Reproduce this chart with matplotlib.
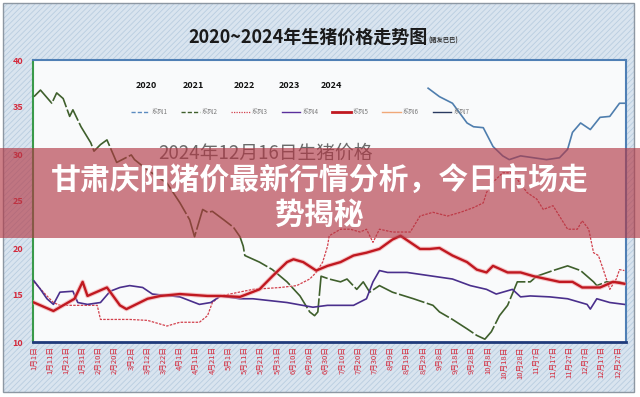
import matplotlib
matplotlib.use('Agg')
import matplotlib.pyplot as plt
from matplotlib.patches import Rectangle
from matplotlib.lines import Line2D

plt.rcParams['font.family'] = ['Noto Sans CJK SC', 'DejaVu Sans']
plt.rcParams['hatch.linewidth'] = 0.6

# values (day of year -> price, yuan/kg)
green_d = [1, 5, 12, 15, 19, 23, 25, 30, 36, 38, 42, 46, 52, 61, 63, 71, 83, 91, 97, 100,
           105, 108, 111, 118, 124, 128, 130, 131, 140, 148, 157, 165, 171, 174, 176, 178, 183, 190, 194, 200,
           204, 208, 214, 222, 235, 247, 251, 259, 268, 274, 279, 283, 288, 293, 299, 307, 311, 321, 330, 338,
           346, 348, 354, 362, 365]
green_v = [36.1, 36.8, 35.4, 36.5, 35.9, 34.0, 34.7, 32.9, 31.2, 30.3, 31.0, 31.5, 29.1, 29.9, 29.4, 28.3, 26.9, 24.8, 23.0, 21.2,
           24.1, 23.8, 23.9, 23.0, 22.2, 21.2, 20.2, 19.2, 18.5, 17.7, 16.4, 14.9, 13.2, 12.8, 13.2, 17.0, 16.7, 16.4, 16.7, 15.6,
           16.4, 15.3, 16.0, 15.3, 14.6, 13.9, 13.2, 12.4, 11.4, 10.7, 10.3, 11.1, 12.8, 13.9, 16.4, 16.4, 17.0, 17.6, 18.1, 17.6,
           16.4, 16.0, 16.4, 16.4, 16.2]

blue_d = [244, 251, 259, 268, 272, 278, 284, 290, 294, 301, 309, 317, 325, 330, 333, 338, 344, 350, 356, 362, 365]
blue_v = [37.0, 36.1, 35.4, 33.3, 32.9, 32.8, 30.8, 29.8, 29.4, 29.8, 29.6, 29.4, 29.6, 30.5, 32.3, 33.3, 32.6, 33.9, 34.0, 35.4, 35.4]

red_d = [1, 13, 19, 26, 31, 34, 46, 54, 58, 71, 79, 91, 108, 116, 128, 140, 148, 157, 161, 167,
         175, 182, 190, 198, 206, 214, 222, 227, 233, 239, 245, 251, 259, 268, 274, 280, 284, 293, 301, 309,
         317, 325, 333, 339, 350, 358, 365]
red_v = [14.2, 13.3, 13.9, 14.6, 16.4, 14.9, 15.8, 13.9, 13.5, 14.6, 14.9, 15.1, 14.9, 14.9, 14.8, 15.6, 17.0, 18.5, 18.8, 18.5,
         17.6, 18.1, 18.5, 19.2, 19.5, 19.9, 20.9, 21.3, 20.6, 19.9, 19.9, 20.0, 19.2, 18.5, 17.7, 17.4, 18.1, 17.4, 17.4, 17.0,
         16.7, 16.4, 16.4, 15.8, 15.8, 16.4, 16.2]

purple_d = [1, 5, 9, 13, 17, 25, 28, 34, 42, 48, 54, 60, 68, 74, 91, 103, 110, 116, 128, 136,
            157, 173, 182, 198, 206, 210, 214, 219, 231, 247, 259, 270, 280, 286, 296, 301, 307, 319, 330, 342,
            344, 348, 356, 365]
purple_v = [16.5, 15.6, 14.6, 14.0, 15.3, 15.4, 14.2, 14.0, 14.2, 15.4, 15.8, 16.0, 15.8, 15.1, 14.8, 14.0, 14.2, 14.9, 14.6, 14.6,
            14.2, 13.7, 13.9, 13.9, 14.6, 16.4, 17.6, 17.4, 17.4, 17.0, 16.7, 16.0, 15.6, 15.1, 15.6, 14.8, 14.9, 14.8, 14.6, 14.0,
            13.5, 14.6, 14.2, 14.0]

pink_d = [1, 9, 13, 17, 28, 40, 42, 50, 60, 71, 79, 83, 91, 103, 108, 111, 116, 136, 153, 163,
          171, 175, 179, 182, 183, 190, 196, 202, 206, 210, 214, 222, 233, 239, 247, 256, 264, 272, 278, 280,
          284, 290, 296, 305, 311, 315, 321, 330, 336, 339, 343, 346, 349, 352, 356, 360, 362, 365]
pink_v = [16.4, 14.9, 14.2, 13.9, 13.9, 13.9, 12.4, 12.4, 12.4, 12.3, 11.9, 11.7, 12.1, 12.1, 12.8, 14.2, 14.9, 15.6, 15.8, 16.0,
          16.7, 17.4, 18.5, 20.2, 21.3, 22.0, 22.0, 21.7, 22.0, 20.6, 22.0, 21.7, 21.7, 23.4, 23.8, 23.4, 23.8, 24.3, 24.8, 25.9,
          27.0, 28.0, 28.0, 25.9, 25.2, 24.1, 24.5, 22.0, 22.0, 22.9, 22.0, 19.5, 19.2, 17.7, 15.6, 16.7, 17.7, 17.6]

tick_days = list(range(1, 362, 10))
tick_labels = ['1月1日', '1月11日', '1月21日', '1月31日', '2月10日', '2月20日', '3月2日', '3月12日', '3月22日',
               '4月1日', '4月11日', '4月21日', '5月1日', '5月11日', '5月21日', '5月31日', '6月10日', '6月20日',
               '6月30日', '7月10日', '7月20日', '7月30日', '8月9日', '8月19日', '8月29日', '9月8日', '9月18日',
               '9月28日', '10月8日', '10月18日', '10月28日', '11月7日', '11月17日', '11月27日', '12月7日',
               '12月17日', '12月27日']
years = ['2020', '2021', '2022', '2023', '2024']
series_names = ['系列1', '系列2', '系列3', '系列4', '系列5', '系列6', '系列7']

W, H = 640, 397
fig = plt.figure(figsize=(6.4, 3.97), dpi=100, facecolor='white')

# hatched chart background + frame
fig.add_artist(Rectangle((3 / W, 5 / H), 631 / W, 389 / H, transform=fig.transFigure,
                         facecolor='#d9e4ef', edgecolor='#b9cde0', hatch='//////', lw=0, zorder=-2))
fig.add_artist(Rectangle((3 / W, 5 / H), 631 / W, 389 / H, transform=fig.transFigure,
                         facecolor='none', edgecolor='#8d97a2', lw=1.0, zorder=-1))

ax = fig.add_axes([33 / W, 1 - 342 / H, (626 - 33) / W, (342 - 60) / H])
ax.set_facecolor('#f9fafb')

ax.plot(pink_d, pink_v, color='#d2404c', lw=0.9, ls=(0, (2, 1)), zorder=3)
ax.plot(green_d, green_v, color='#3f5f2c', lw=1.2, ls=(0, (16, 1.5)), zorder=3)
ax.plot(blue_d, blue_v, color='#4f7eae', lw=1.2, zorder=3)
ax.plot(purple_d, purple_v, color='#4a2f8c', lw=1.2, zorder=3)
ax.plot(red_d, red_v, color='#f2a0a4', lw=3.2, alpha=0.6, zorder=4)
ax.plot(red_d, red_v, color='#c01820', lw=1.7, zorder=5)

ax.set_xlim(0.4, 366)
ax.set_ylim(10, 40)
ax.set_yticks(range(10, 41, 5))
ax.set_xticks(tick_days)
ax.set_xticklabels(tick_labels, rotation=90, fontsize=5.5, color='#d42a3c')
ax.tick_params(axis='y', length=0, pad=7, labelsize=6.5, labelcolor='#d42a3c')
ax.tick_params(axis='x', length=0, pad=3)
for lab in ax.get_yticklabels():
    lab.set_fontweight('bold')

ax.spines['left'].set_color('#3a9a4a')
ax.spines['left'].set_linewidth(1.5)
ax.spines['bottom'].set_color('#1f3a7a')
ax.spines['bottom'].set_linewidth(2.0)
for s in ['top', 'right']:
    ax.spines[s].set_color('#4f7fb5')
    ax.spines[s].set_linewidth(1.5)

# legend
handles = [
    Line2D([], [], color='#5b8bc0', lw=1.0, ls=(0, (3, 1.5))),
    Line2D([], [], color='#3f5f2c', lw=1.0, ls=(0, (3, 1.5))),
    Line2D([], [], color='#d2404c', lw=0.9, ls=(0, (1, 1))),
    Line2D([], [], color='#5a2f9c', lw=1.0),
    Line2D([], [], color='#c01820', lw=2.0),
    Line2D([], [], color='#f0a878', lw=1.0),
    Line2D([], [], color='#2a3a60', lw=1.0),
]
leg = ax.legend(handles, series_names, loc='center', bbox_to_anchor=(0.45, 0.816), ncol=7,
                frameon=False, fontsize=4.5, handlelength=3.0, handletextpad=0.3, columnspacing=2.2)
for t in leg.get_texts():
    t.set_color('#7a7a7a')

year_x = [0.191, 0.270, 0.357, 0.432, 0.504]
for yx, yr in zip(year_x, years):
    ax.text(yx, 0.911, yr, transform=ax.transAxes, fontsize=6.5, fontweight='bold',
            ha='center', va='center', color='#111111')

# titles
fig.text(308 / W, 1 - 37 / H, '2020~2024年生猪价格走势图', fontsize=13, fontweight='bold',
         ha='center', va='center', color='#1a1a1a')
fig.text(443 / W, 1 - 40 / H, '(猪友巴巴)', fontsize=4.5, fontweight='bold',
         ha='center', va='center', color='#333333')
fig.text(265 / W, 1 - 153 / H, '2024年12月16日生猪价格', fontsize=13.5,
         ha='center', va='center', color='#6a6a6a', zorder=5)

# banner overlay
fig.add_artist(Rectangle((0, 1 - 238 / H), 1, 90 / H, transform=fig.transFigure,
                         facecolor=(178 / 255, 55 / 255, 68 / 255), alpha=0.64, lw=0, zorder=10))
fig.text(320 / W, 1 - 181 / H, '甘肃庆阳猪价最新行情分析，今日市场走', fontsize=21.5,
         fontweight='bold', ha='center', va='center', color='white', zorder=11)
fig.text(320 / W, 1 - 215 / H, '势揭秘', fontsize=21.5,
         fontweight='bold', ha='center', va='center', color='white', zorder=11)

fig.savefig('out.png', dpi=100)
